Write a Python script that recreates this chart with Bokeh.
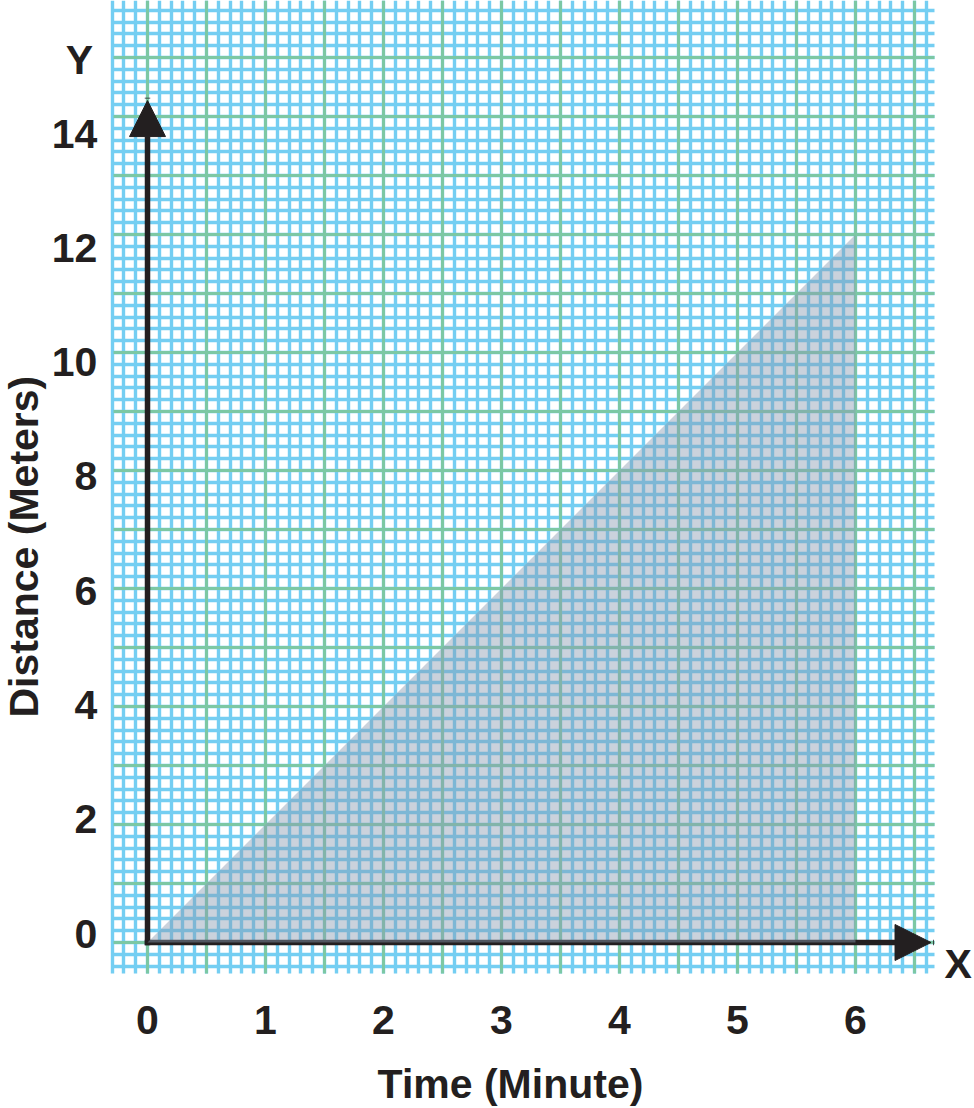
import math
from bokeh.plotting import figure
from bokeh.models import (Range1d, Grid, SingleIntervalTicker, Label, LabelSet, Arrow,
                          NormalHead, ColumnDataSource, BoxAnnotation)
from bokeh.core.properties import value
from bokeh.embed import file_html
from bokeh.resources import INLINE

# ---- data ----
time_ticks = [0, 1, 2, 3, 4, 5, 6]
dist_ticks = [0, 2, 4, 6, 8, 10, 12, 14]
tri_time = [0, 6, 6]
tri_dist = [0, 12, 0]
x_title = "Time (Minute)"
y_title = "Distance (Meters)"

# ---- layout (data units) ----
X_MIN, X_MAX = -147 / 118, 827 / 118      # figure edges
Y_MIN, Y_MAX = -166 / 59, 942 / 59
PAPER_L, PAPER_R, PAPER_B = -0.288, 6.669, -0.525
X_ARROW_END, Y_ARROW_END = 6.64, 14.27

INK = "#231f20"
BLUE = "#74cef2"
GREEN = "#7cc8a4"
FONT = "Liberation Sans"

p = figure(width=974, height=1108, output_backend="svg", toolbar_location=None,
           x_range=Range1d(X_MIN, X_MAX), y_range=Range1d(Y_MIN, Y_MAX),
           x_axis_location=None, y_axis_location=None, min_border=0)
p.outline_line_color = None
p.background_fill_color = "white"
p.border_fill_color = "white"
p.grid.visible = False

# tick-label placement range (labels are spaced slightly tighter than the grid)
p.extra_y_ranges = {"lbl": Range1d((933 - 1108) / 57.14, 933 / 57.14)}

# ---- graph-paper grid ----
has_cb = "cross_bounds" in Grid.properties()
def add_grid(dim, interval, color, width):
    kw = dict(dimension=dim, ticker=SingleIntervalTicker(interval=interval, num_minor_ticks=0),
              grid_line_color=color, grid_line_width=width)
    if dim == 0:
        kw["bounds"] = (PAPER_L - 0.02, PAPER_R)
        if has_cb:
            kw["cross_bounds"] = (PAPER_B, Y_MAX)
    else:
        kw["bounds"] = (PAPER_B, Y_MAX)
        if has_cb:
            kw["cross_bounds"] = (PAPER_L, PAPER_R)
    p.add_layout(Grid(**kw))

add_grid(0, 0.1, BLUE, 3.4)
add_grid(1, 0.2, BLUE, 3.4)
add_grid(0, 0.5, GREEN, 3)
add_grid(1, 1.0, GREEN, 3)

if not has_cb:
    for kw in (dict(right=PAPER_L), dict(left=PAPER_R), dict(top=PAPER_B)):
        p.add_layout(BoxAnnotation(fill_color="white", fill_alpha=1, line_color=None, **kw))

# ---- shaded triangle ----
p.patch(tri_time, tri_dist, fill_color="#8a9cb2", fill_alpha=0.45, line_color=None,
        level="overlay")

# ---- axis arrows ----
for xe, ye in ((X_ARROW_END, 0), (0, Y_ARROW_END)):
    p.add_layout(Arrow(x_start=0, y_start=0, x_end=xe, y_end=ye, line_color=INK,
                       line_width=5.5, line_cap="square",
                       end=NormalHead(size=36, fill_color=INK, line_color=INK, line_width=1)))

txt = dict(text_font=value(FONT), text_font_style="bold", text_font_size="41px",
           text_color=INK, text_baseline="middle")

# ---- tick labels ----
xsrc = ColumnDataSource(dict(x=time_ticks, text=[str(t) for t in time_ticks]))
p.add_layout(LabelSet(source=xsrc, x="x", y=-1.322, text="text", text_align="center",
                      **txt))
ysrc = ColumnDataSource(dict(y=dist_ticks, text=[str(t) for t in dist_ticks]))
p.add_layout(LabelSet(source=ysrc, x=-0.425, y="y", y_range_name="lbl", text="text",
                      text_align="right", **txt))

# ---- titles ----
def lab(x, y, text, angle=0):
    p.add_layout(Label(x=x, y=y, text=text, angle=angle, text_font=FONT,
                       text_font_style="bold", text_font_size="41px", text_color=INK,
                       text_align="center", text_baseline="middle"))

lab(3.076, -2.39, x_title)
lab(-1.05, 6.71, y_title, angle=math.pi / 2)
lab(6.87, -0.356, "X")
lab(-0.576, 14.95, "Y")

open("out.html", "w").write(file_html(p, INLINE))
